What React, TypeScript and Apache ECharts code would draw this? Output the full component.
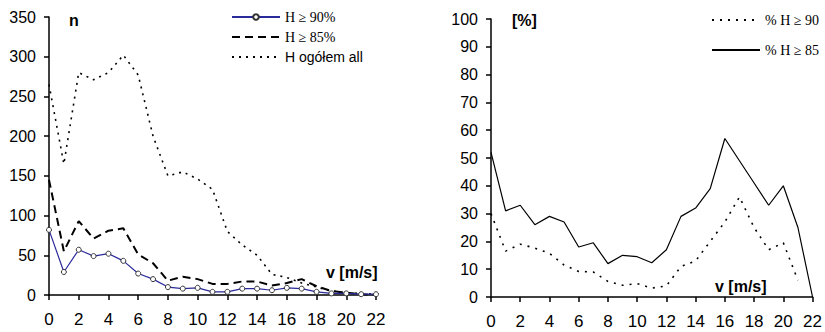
import React, { useEffect, useRef } from "react";
import * as echarts from "echarts";

const speeds = [0, 1, 2, 3, 4, 5, 6, 7, 8, 9, 10, 11, 12, 13, 14, 15, 16, 17, 18, 19, 20, 21, 22];
const h90 = [82, 29, 57, 49, 52, 43, 27, 20, 10, 8, 9, 4, 4, 8, 8, 6, 9, 8, 4, 2, 2, 1, 1];
const h85 = [145, 55, 93, 71, 81, 84, 51, 40, 18, 23, 20, 14, 14, 17, 17, 12, 15, 20, 11, 5, 3, 1, 0];
const hAll = [265, 165, 280, 271, 280, 302, 277, 200, 150, 155, 146, 133, 80, 63, 50, 26, 22, 15, 10, 5, 3, 2, 1];
const pct90 = [30, 16.5, 19, 17.6, 15.7, 11.5, 9.2, 9, 5.6, 4.2, 4.8, 3.2, 4, 11, 13, 20, 27, 36, 25, 17, 19.5, 6, null];
const pct85 = [52, 31, 33, 26, 29, 27, 18, 19.5, 12, 15, 14.5, 12.3, 17, 29, 32, 39, 57, 49, 41, 33, 40, 25, 0];

const leftYTicks = { min: 0, max: 350, interval: 50 };
const rightYTicks = { min: 0, max: 100, interval: 10 };
const xTicks = { min: 0, max: 22, interval: 2 };

const names = ["H ≥ 90%", "H ≥ 85%", "H ogółem all", "% H ≥ 90", "% H ≥ 85"];

const pairs = (vals: (number | null)[]) => speeds.map((x, i) => [x, vals[i]]).filter((p) => p[1] !== null);

const sans = "'Liberation Sans', Arial, sans-serif";
const serif = "'Liberation Serif', 'Times New Roman', serif";

export default function App() {
  const ref = useRef<HTMLDivElement>(null);
  useEffect(() => {
    const chart = echarts.init(ref.current!, null, { renderer: "svg" });
    const axisCommon = {
      axisLine: { show: true, lineStyle: { color: "#000", width: 1.5 } },
      axisTick: { show: true, inside: false, length: 5, lineStyle: { color: "#000", width: 1.5 } },
      splitLine: { show: false },
    };
    const xAxis = (gi: number) => ({
      type: "value",
      gridIndex: gi,
      ...xTicks,
      ...axisCommon,
      axisLabel: { margin: 16, color: "#000", fontSize: 17, fontFamily: sans },
    });
    const yAxis = (gi: number, t: any) => ({
      type: "value",
      gridIndex: gi,
      ...t,
      ...axisCommon,
      axisLabel: { margin: 13, color: "#000", fontSize: 16, fontFamily: sans },
    });
    const legendText = {
      color: "#000",
      fontSize: 14,
      fontFamily: serif,
      lineHeight: 14,
      rich: {
        s: { fontFamily: sans, fontSize: 14, color: "#000", lineHeight: 14 },
        r: { fontFamily: serif, fontSize: 14, color: "#000", lineHeight: 14 },
      },
    };
    const hidden = { opacity: 0 };
    const option: any = {
      animation: false,
      backgroundColor: "#fff",
      grid: [
        { left: 49, top: 17, width: 327, height: 278 },
        { left: 491, top: 19, width: 326, height: 278 },
      ],
      xAxis: [xAxis(0), xAxis(1)],
      yAxis: [yAxis(0, leftYTicks), yAxis(1, rightYTicks)],
      legend: [
        {
          data: [
            { name: names[0] },
            { name: names[1], itemStyle: hidden },
            { name: names[2], itemStyle: hidden },
          ],
          orient: "vertical",
          left: 226,
          top: 5,
          itemWidth: 48,
          itemHeight: 7,
          itemGap: 6,
          textStyle: legendText,
          formatter: (n: string) => (n.startsWith("H og") ? `{s|${n}}` : `{r|${n}}`),
        },
        {
          data: [
            { name: names[3], itemStyle: hidden },
            { name: names[4], itemStyle: hidden },
          ],
          orient: "vertical",
          left: 706,
          top: 8,
          itemWidth: 48,
          itemHeight: 7,
          itemGap: 16,
          textStyle: legendText,
          formatter: (n: string) => `{r|${n}}`,
        },
      ],
      series: [
        {
          name: names[2],
          type: "line",
          xAxisIndex: 0,
          yAxisIndex: 0,
          data: pairs(hAll),
          symbol: "none",
          lineStyle: { color: "#000", width: 1.6, type: [2, 5] },
          itemStyle: { color: "#000" },
        },
        {
          name: names[1],
          type: "line",
          xAxisIndex: 0,
          yAxisIndex: 0,
          data: pairs(h85),
          symbol: "none",
          lineStyle: { color: "#000", width: 2, type: [8, 5] },
          itemStyle: { color: "#000" },
        },
        {
          name: names[0],
          type: "line",
          xAxisIndex: 0,
          yAxisIndex: 0,
          data: pairs(h90),
          symbol: "circle",
          symbolSize: 5,
          lineStyle: { color: "#2a2a9a", width: 1.2 },
          itemStyle: { color: "#fff", borderColor: "#333", borderWidth: 1 },
        },
        {
          name: names[3],
          type: "line",
          xAxisIndex: 1,
          yAxisIndex: 1,
          data: pairs(pct90),
          symbol: "none",
          lineStyle: { color: "#000", width: 1.6, type: [2, 6] },
          itemStyle: { color: "#000" },
        },
        {
          name: names[4],
          type: "line",
          xAxisIndex: 1,
          yAxisIndex: 1,
          data: pairs(pct85),
          symbol: "none",
          lineStyle: { color: "#000", width: 1.2 },
          itemStyle: { color: "#000" },
        },
      ],
      graphic: [
        { type: "text", left: 69, top: 12, style: { text: "n", font: `bold 16px ${sans}`, fill: "#000" } },
        { type: "text", left: 326, top: 264, style: { text: "v [m/s]", font: `bold 16px ${sans}`, fill: "#000" } },
        { type: "text", left: 512, top: 12, style: { text: "[%]", font: `bold 16px ${sans}`, fill: "#000" } },
        { type: "text", left: 715, top: 278, style: { text: "v [m/s]", font: `bold 16px ${sans}`, fill: "#000" } },
      ],
    };
    chart.setOption(option);
    return () => chart.dispose();
  }, []);
  return <div ref={ref} style={{ position: "fixed", left: 0, top: 0, width: 825, height: 332 }} />;
}
